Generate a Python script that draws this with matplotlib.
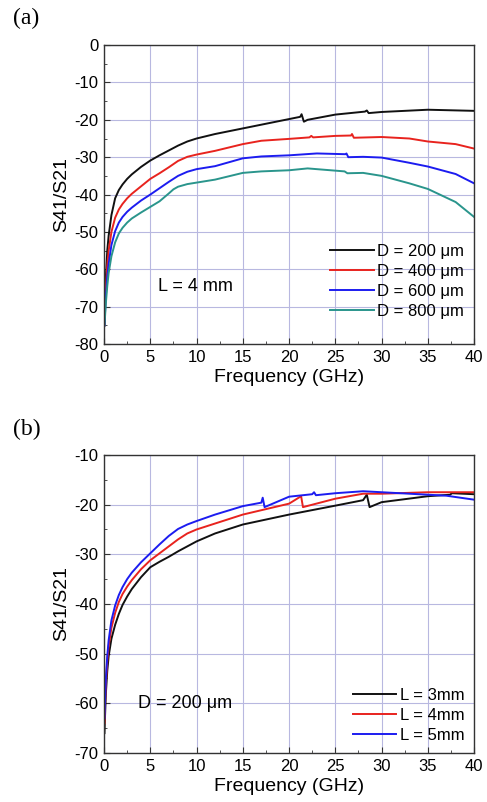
import matplotlib
matplotlib.use('Agg')
import matplotlib.pyplot as plt
from matplotlib.ticker import MultipleLocator

plt.rcParams['font.family'] = ['Liberation Sans', 'DejaVu Sans']
plt.rcParams['axes.unicode_minus'] = False

# Panel (a): L = 4 mm, different D
freq_a_200 = [0.05, 0.1, 0.2, 0.35, 0.5, 0.8, 1.2, 1.6, 2, 2.5, 3, 4, 5, 6, 7, 8, 9, 10, 12, 15, 18, 20, 21.2, 21.35, 21.6, 22, 25, 28.2, 28.4, 28.6, 30, 35, 40]
s_a_200 = [-75, -70, -62, -55, -51, -45.5, -41, -38.8, -37.3, -35.8, -34.6, -32.6, -30.9, -29.5, -28.2, -26.9, -25.8, -25, -23.8, -22.3, -20.8, -19.8, -19.2, -18.5, -20.5, -20, -18.6, -17.8, -17.5, -18.2, -17.9, -17.3, -17.6]
freq_a_400 = [0.05, 0.1, 0.2, 0.35, 0.5, 0.8, 1.2, 1.6, 2, 2.5, 3, 4, 5, 6, 7, 8, 9, 10, 12, 15, 17, 20, 22.2, 22.4, 22.6, 25, 26.7, 26.8, 27, 30, 33, 35, 38, 40]
s_a_400 = [-75, -71, -65, -59, -55, -50, -46.2, -44, -42.5, -41, -39.8, -37.8, -35.8, -34.3, -32.7, -31, -29.9, -29.3, -28.3, -26.5, -25.6, -25.1, -24.7, -24.3, -24.7, -24.3, -24.2, -23.8, -24.8, -24.6, -25, -25.8, -26.5, -27.7]
freq_a_600 = [0.05, 0.1, 0.2, 0.35, 0.5, 0.8, 1.2, 1.6, 2, 2.5, 3, 4, 5, 6, 7, 8, 9, 10, 12, 15, 17, 20, 23, 26.1, 26.2, 26.4, 28, 30, 33, 35, 38, 40]
s_a_600 = [-75, -72, -67, -62, -58.5, -53.5, -49.8, -47.5, -46, -44.6, -43.5, -41.6, -40, -38.3, -36.6, -35, -33.9, -33.2, -32.4, -30.3, -29.8, -29.5, -29, -29.2, -29, -30, -29.9, -30.1, -31.5, -32.5, -34.5, -37]
freq_a_800 = [0.05, 0.1, 0.2, 0.35, 0.5, 0.8, 1.2, 1.6, 2, 2.5, 3, 4, 5, 6, 7, 7.5, 8, 9, 10, 12, 15, 17, 20, 22, 23, 26, 26.3, 28, 30, 33, 35, 38, 40]
s_a_800 = [-75, -73, -69, -64.5, -61, -56.5, -52.8, -50.4, -48.9, -47.5, -46.4, -44.8, -43.3, -41.8, -39.7, -38.6, -37.9, -37.2, -36.8, -36, -34.2, -33.8, -33.5, -33, -33.2, -33.8, -34.3, -34.2, -35, -37, -38.5, -42, -46]
labels_a = ['D = 200 μm', 'D = 400 μm', 'D = 600 μm', 'D = 800 μm']

# Panel (b): D = 200 um, different L
freq_b_3 = [0.05, 0.1, 0.2, 0.35, 0.5, 0.8, 1.2, 1.6, 2, 2.5, 3, 4, 5, 6, 7, 8, 9, 10, 12, 15, 20, 25, 28, 28.4, 28.7, 30, 35, 37.4, 37.6, 40]
s_b_3 = [-66, -63, -58, -53.5, -50.5, -47, -44.2, -42, -40.2, -38.5, -37, -34.6, -32.6, -31.5, -30.5, -29.4, -28.4, -27.4, -25.8, -24, -22, -20.2, -19.1, -18, -20.5, -19.5, -18.3, -18, -17.7, -17.9]
freq_b_4 = [0.05, 0.1, 0.2, 0.35, 0.5, 0.8, 1.2, 1.6, 2, 2.5, 3, 4, 5, 6, 7, 8, 9, 10, 12, 15, 20, 21.3, 21.5, 25, 28, 30, 35, 40]
s_b_4 = [-64, -61, -56, -51.5, -48.5, -44.8, -41.8, -39.6, -38, -36.5, -35.2, -33, -31.2, -29.8, -28.4, -27, -25.8, -25, -23.8, -22, -19.8, -18.3, -20.5, -18.8, -17.8, -17.8, -17.5, -17.5]
freq_b_5 = [0.05, 0.1, 0.2, 0.35, 0.5, 0.8, 1.2, 1.6, 2, 2.5, 3, 4, 5, 6, 7, 8, 9, 10, 12, 15, 17, 17.15, 17.35, 20, 22.5, 22.7, 22.9, 25, 28, 30, 35, 37, 40]
s_b_5 = [-63, -60, -55, -50.5, -47.3, -43.3, -40.3, -38.2, -36.6, -35, -33.7, -31.6, -29.8, -28, -26.3, -24.9, -24, -23.3, -22, -20.3, -19.6, -18.6, -20.5, -18.4, -17.9, -17.5, -18.1, -17.7, -17.3, -17.5, -18, -18.2, -19]
labels_b = ['L = 3mm', 'L = 4mm', 'L = 5mm']

colors_a = ['#111111', '#e8231e', '#1c1cf0', '#2a958c']
colors_b = ['#111111', '#e8231e', '#1c1cf0']

grid_color = '#b8b8e0'

fig = plt.figure(figsize=(4.87, 8.02), dpi=100)
ax1 = fig.add_axes([0.2136, 0.571, 0.760, 0.3728])
ax2 = fig.add_axes([0.2136, 0.0611, 0.760, 0.3716])


def style_axis(ax, ylo, yhi):
    ax.set_xlim(0, 40)
    ax.set_ylim(ylo, yhi)
    ax.xaxis.set_major_locator(MultipleLocator(5))
    ax.xaxis.set_minor_locator(MultipleLocator(2.5))
    ax.yaxis.set_major_locator(MultipleLocator(10))
    ax.yaxis.set_minor_locator(MultipleLocator(5))
    ax.tick_params(which='both', direction='in', labelsize=12, color='#333333')
    ax.tick_params(which='major', length=4, pad=4)
    ax.tick_params(which='minor', length=2.5)
    ax.grid(True, which='major', color=grid_color, linewidth=0.8)
    ax.set_axisbelow(True)
    for sp in ax.spines.values():
        sp.set_color('#333333')
        sp.set_linewidth(1.0)
    ax.set_xlabel('Frequency (GHz)', fontsize=14, labelpad=3)
    ax.set_ylabel('S41/S21', fontsize=14, labelpad=3)


series_a = [(freq_a_200, s_a_200), (freq_a_400, s_a_400), (freq_a_600, s_a_600), (freq_a_800, s_a_800)]
for (fx, sy), c, lab in zip(series_a, colors_a, labels_a):
    ax1.plot(fx, sy, color=c, linewidth=1.4, label=lab)
style_axis(ax1, -80, 0)
ax1.legend(loc='lower right', bbox_to_anchor=(1.0, 0.05), frameon=False, fontsize=12,
           handlelength=2.6, handletextpad=0.2, labelspacing=0.3, borderaxespad=0.2)
ax1.text(5.8, -64.7, 'L = 4 mm', fontsize=13, va='center', ha='left')

series_b = [(freq_b_3, s_b_3), (freq_b_4, s_b_4), (freq_b_5, s_b_5)]
for (fx, sy), c, lab in zip(series_b, colors_b, labels_b):
    ax2.plot(fx, sy, color=c, linewidth=1.4, label=lab)
style_axis(ax2, -70, -10)
ax2.legend(loc='lower right', bbox_to_anchor=(1.0, 0.0), frameon=False, fontsize=12,
           handlelength=2.6, handletextpad=0.2, labelspacing=0.3, borderaxespad=0.2)
ax2.text(3.7, -60, 'D = 200 μm', fontsize=13, va='center', ha='left')

fig.text(0.027, 0.977, '(a)', fontsize=17, family='Liberation Serif', va='center')
fig.text(0.027, 0.464, '(b)', fontsize=17, family='Liberation Serif', va='center')

fig.savefig('out.png', dpi=100)
